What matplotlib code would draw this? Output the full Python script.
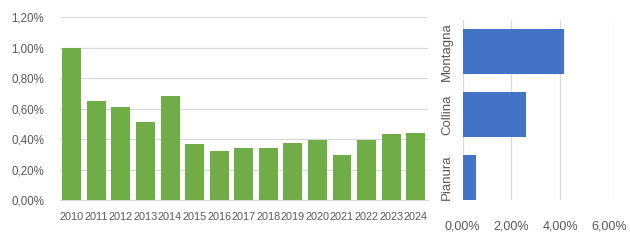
import matplotlib
matplotlib.use("Agg")
import matplotlib.pyplot as plt
from matplotlib.ticker import FuncFormatter

# data (percent values)
years = ["2010", "2011", "2012", "2013", "2014", "2015", "2016", "2017",
         "2018", "2019", "2020", "2021", "2022", "2023", "2024"]
year_values = [1.00, 0.65, 0.61, 0.51, 0.68, 0.367, 0.32, 0.34,
               0.34, 0.373, 0.393, 0.295, 0.393, 0.433, 0.44]

zones = ["Pianura", "Collina", "Montagna"]
zone_values = [0.55, 2.60, 4.16]

plt.rcParams['font.family'] = ['Liberation Sans', 'DejaVu Sans']
text_col = "#595959"
grid_col = "#D9D9D9"

def pct(v, pos):
    return "{:.2f}%".format(v).replace(".", ",")

fig = plt.figure(figsize=(6.3, 2.4), dpi=100)

# left chart: yearly bars
ax1 = fig.add_axes([59.5 / 630, 1 - 200 / 240, (428 - 59.5) / 630, 183 / 240])
ax1.bar(range(len(years)), year_values, width=0.77, color="#70AD47", zorder=3)
ax1.set_xlim(-0.5, len(years) - 0.5)
ax1.set_ylim(0, 1.2)
ax1.set_yticks([0, 0.2, 0.4, 0.6, 0.8, 1.0, 1.2])
ax1.yaxis.set_major_formatter(FuncFormatter(pct))
ax1.set_xticks(range(len(years)))
ax1.set_xticklabels(years)
ax1.grid(axis="y", color=grid_col, linewidth=0.9, zorder=0)
for s in ["top", "right", "left"]:
    ax1.spines[s].set_visible(False)
ax1.spines["bottom"].set_color(grid_col)
ax1.tick_params(axis="both", length=0, labelcolor=text_col)
ax1.tick_params(axis="x", labelsize=7.8, pad=9)
ax1.tick_params(axis="y", labelsize=8.3, pad=11)

# right chart: zones
ax2 = fig.add_axes([462.7 / 630, 1 - 200 / 240, (608.7 - 462.7) / 630, 180 / 240])
ax2.barh(range(len(zones)), zone_values, height=0.714, color="#4472C4", zorder=3)
ax2.set_xlim(0, 6)
ax2.set_ylim(-0.357, 2.5)
ax2.set_xticks([0, 2, 4, 6])
ax2.xaxis.set_major_formatter(FuncFormatter(pct))
ax2.set_yticks(range(len(zones)))
ax2.set_yticklabels(zones, rotation=90, va="center")
ax2.grid(axis="x", color=grid_col, linewidth=0.9, zorder=0)
for s in ax2.spines.values():
    s.set_visible(False)
ax2.tick_params(axis="both", length=0, labelcolor=text_col)
ax2.tick_params(axis="x", labelsize=9, pad=15)
ax2.tick_params(axis="y", labelsize=9.5, pad=7)

fig.savefig("out.png", dpi=100)
